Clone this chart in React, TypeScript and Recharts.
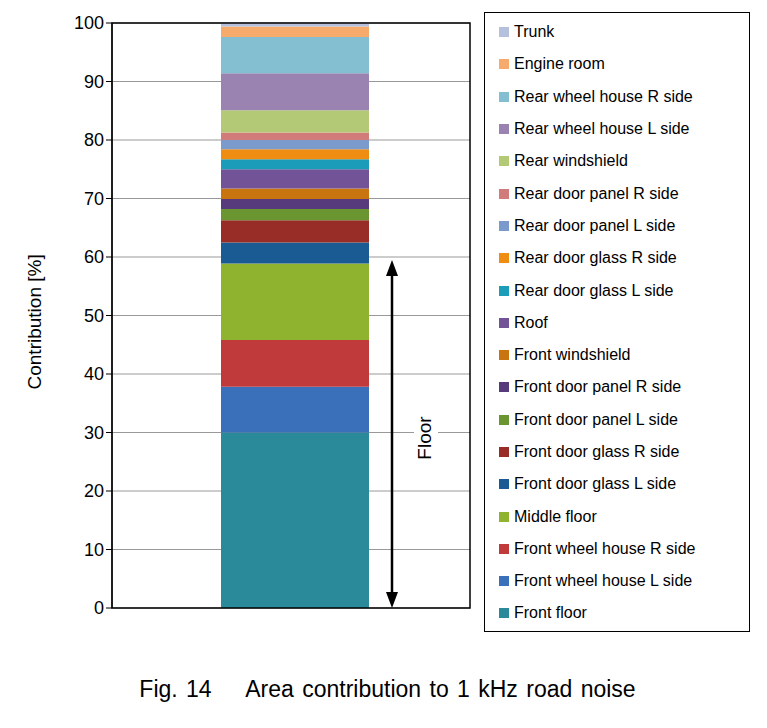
import React from 'react';
import { BarChart, Bar, XAxis, YAxis, CartesianGrid } from 'recharts';

const categories = ['Area'];
const parts = [
  'Front floor', 'Front wheel house L side', 'Front wheel house R side', 'Middle floor',
  'Front door glass L side', 'Front door glass R side', 'Front door panel L side',
  'Front door panel R side', 'Front windshield', 'Roof', 'Rear door glass L side',
  'Rear door glass R side', 'Rear door panel L side', 'Rear door panel R side',
  'Rear windshield', 'Rear wheel house L side', 'Rear wheel house R side', 'Engine room', 'Trunk',
];
const values = [30, 7.8, 8.0, 13.1, 3.6, 3.8, 1.9, 1.7, 1.8, 3.3, 1.7, 1.7, 1.6, 1.3, 3.8, 6.3, 6.2, 1.8, 0.6];
const colors = [
  '#2a8a9a', '#3a6fba', '#c0393b', '#8fb32f', '#1b5b94', '#982d27', '#6a9530', '#573a7c',
  '#c8740f', '#735397', '#1b9cb8', '#ef8c12', '#7b9bcd', '#d27b7b', '#b3c976', '#9a83b0',
  '#84bfd1', '#f6ab6c', '#b5c0dc',
];
const yTicks = [0, 10, 20, 30, 40, 50, 60, 70, 80, 90, 100];

const row: Record<string, number | string> = { name: categories[0] };
parts.forEach((p, i) => { row[p] = values[i]; });
const data = [row];

const font = '"Liberation Sans", Arial, sans-serif';

const LegendBox = () => (
  <div style={{ position: 'absolute', left: 476, top: 4, border: '1.5px solid #000', width: 266, height: 620, boxSizing: 'border-box', padding: '3px 0 0 14px', fontFamily: font, fontSize: 16, background: '#fff' }}>
    {parts.slice().reverse().map((p) => (
      <div key={p} style={{ height: 32.3, display: 'flex', alignItems: 'center' }}>
        <span style={{ width: 10, height: 10, background: colors[parts.indexOf(p)], marginRight: 5, display: 'inline-block' }} />
        <span>{p}</span>
      </div>
    ))}
  </div>
);

export default function App() {
  return (
    <div style={{ position: 'relative', width: 759, height: 712, fontFamily: font }}>
      <BarChart width={759} height={640} data={data} margin={{ top: 15, right: 297, bottom: 40, left: 44 }} barSize={148}>
        <CartesianGrid vertical={false} stroke="#999" />
        <XAxis dataKey="name" hide padding={{ left: 8, right: 0 }} />
        <YAxis domain={[0, 100]} ticks={yTicks} width={60} tick={{ fill: '#000', fontSize: 18, fontFamily: font }}
          axisLine={{ stroke: '#000' }} tickLine={{ stroke: '#000' }}
          label={{ value: 'Contribution [%]', angle: -90, position: 'insideLeft', offset: -18, dy: 74, style: { fill: '#000', fontSize: 19, fontFamily: font } }} />
        {parts.map((p, i) => (
          <Bar key={p} dataKey={p} stackId="a" fill={colors[i]} isAnimationActive={false} />
        ))}
      </BarChart>
      <svg width={759} height={640} style={{ position: 'absolute', left: 0, top: 0, pointerEvents: 'none' }}>
        <rect x={104} y={15} width={358} height={585} fill="none" stroke="#000" strokeWidth={1.5} />
        <line x1={384} y1={262} x2={384} y2={590} stroke="#000" strokeWidth={2.5} />
        <polygon points="384,252 378,268 390,268" fill="#000" />
        <polygon points="384,600 378,584 390,584" fill="#000" />
        <rect x={406} y={400} width={24} height={60} fill="#fff" />
        <text x={418} y={430} transform="rotate(-90 418 430)" textAnchor="middle" dominantBaseline="middle" fontSize={19} fontFamily={font}>Floor</text>
      </svg>
      <LegendBox />
      <div style={{ position: 'absolute', top: 668, left: 0, width: 759, textAlign: 'center', fontSize: 23, wordSpacing: 2 }}>
        Fig. 14&nbsp;&nbsp;&nbsp;&nbsp;Area contribution to 1 kHz road noise
      </div>
    </div>
  );
}
